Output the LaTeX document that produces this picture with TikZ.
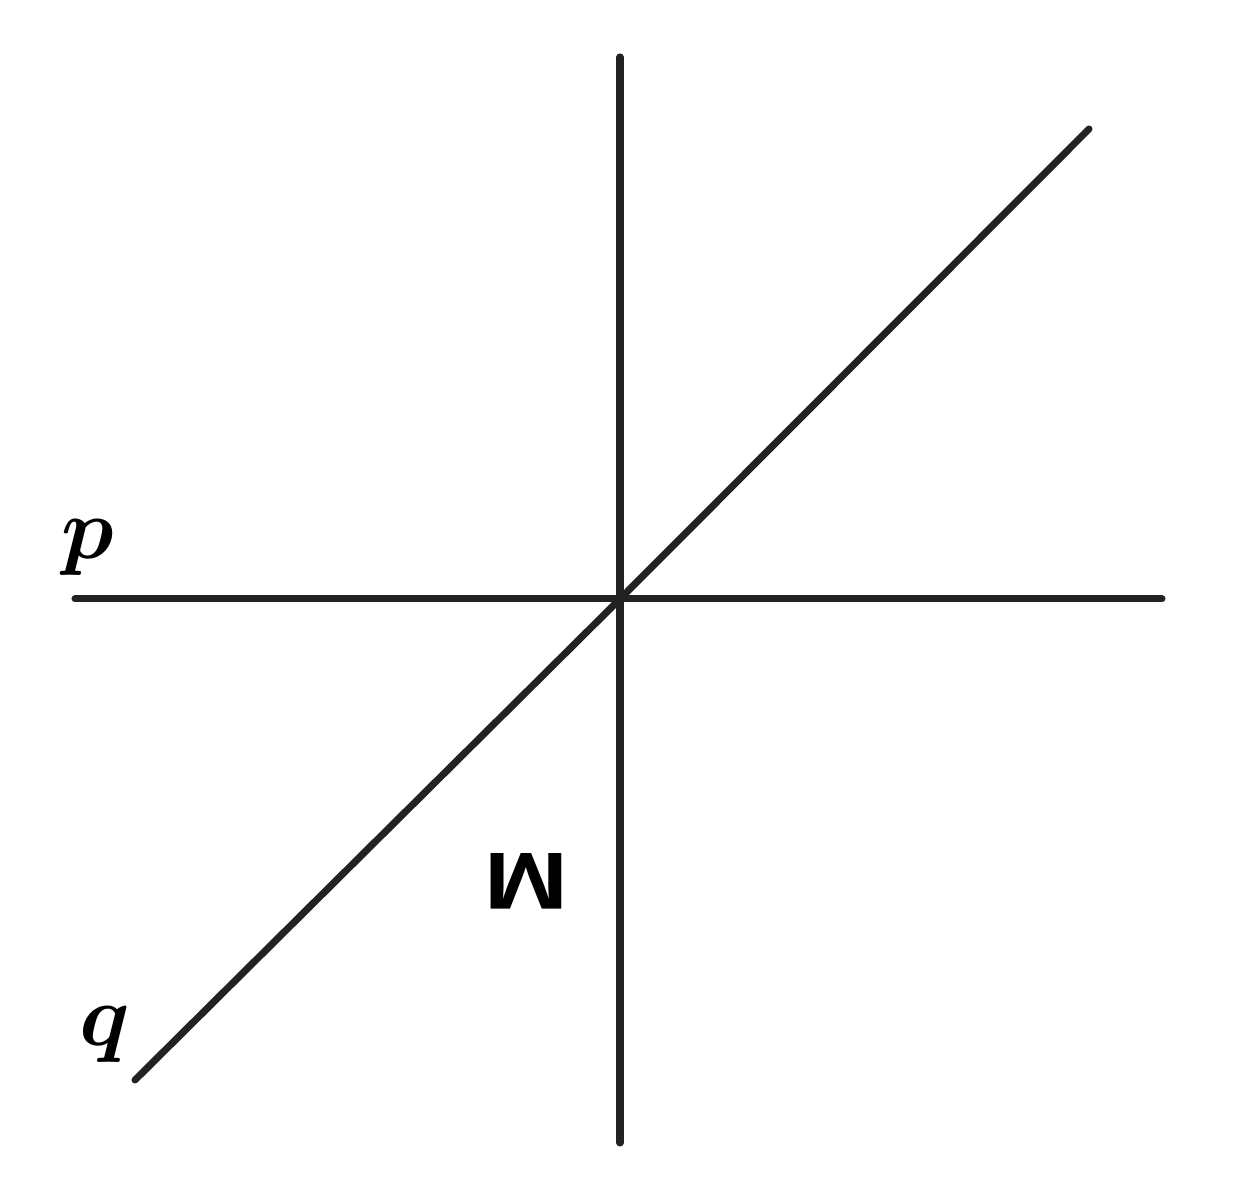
\documentclass[tikz,border=0pt]{standalone}
\usepackage{amsmath}
\usepackage{fontspec}
\newfontfamily\labelfont{Liberation Sans}
\usetikzlibrary{arrows.meta}

\definecolor{linegray}{HTML}{222222}

\begin{document}
\begin{tikzpicture}[line width=2pt, line cap=round]

    % white background fixes the margins
    \useasboundingbox [fill=white] (0,0) rectangle (12.35,11.87);

    % the crossing point
    \coordinate (O) at (6.20,5.88);

    % end points of the three lines
    \coordinate (vtop) at (6.20,11.30);
    \coordinate (vbot) at (6.20,0.44);
    \coordinate (pleft) at (0.75,5.88);
    \coordinate (pright) at (11.62,5.88);
    \coordinate (qbot) at (1.35,1.07);
    \coordinate (qtop) at (10.89,10.58);

    % draw lines
    \draw [linegray] (vtop) -- (O) -- (vbot);
    \draw [linegray] (pleft) -- (O) -- (pright);
    \draw [linegray] (qbot) -- (O) -- (qtop);

    % labels
    \node (plabel) at (0.88,6.39) {\fontsize{26}{30}\selectfont $\boldsymbol{p}$};
    \node (qlabel) at (1.05,1.52) {\fontsize{26}{30}\selectfont $\boldsymbol{q}$};
    \node [rotate=180, xscale=1.25] (mlabel) at (5.26,3.06) {\labelfont\bfseries\fontsize{23}{27}\selectfont M};

  \end{tikzpicture}
\end{document}
